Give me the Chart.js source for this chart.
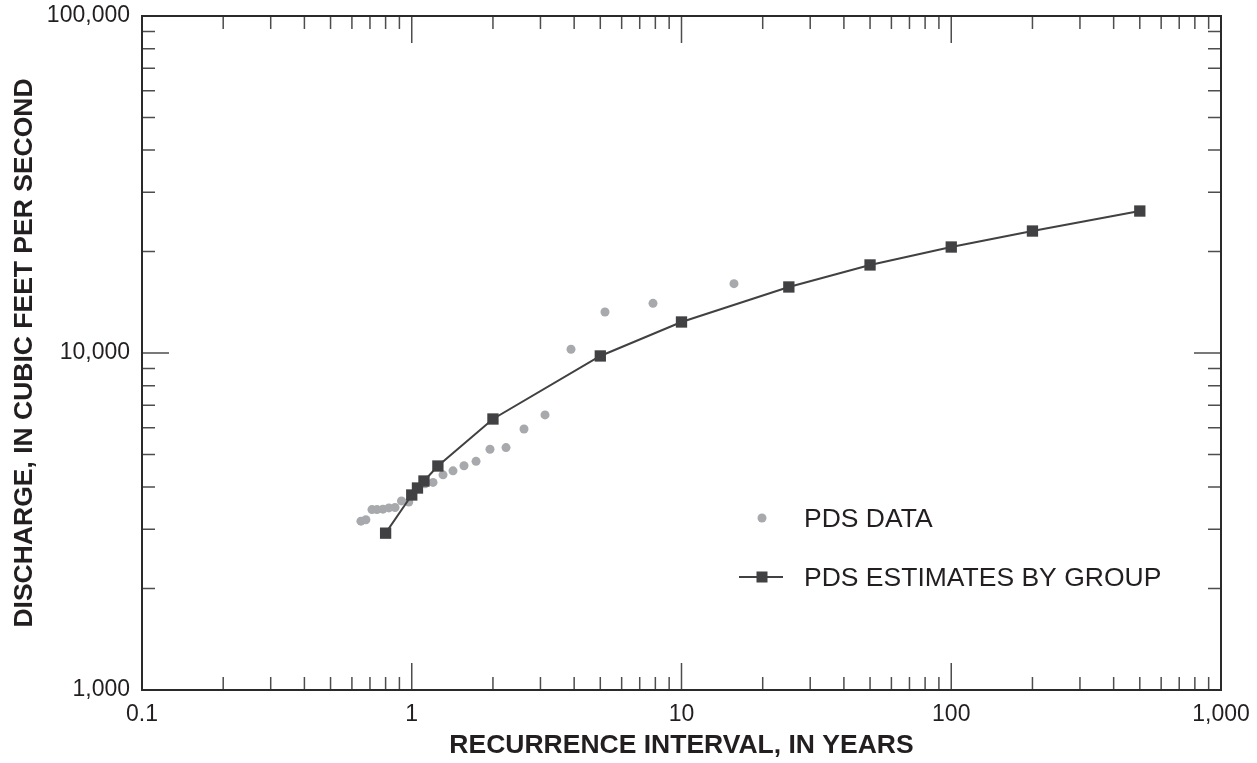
<!DOCTYPE html>
<html>
<head>
<meta charset="utf-8">
<script src="https://cdn.jsdelivr.net/npm/chart.js@4/dist/chart.umd.min.js"></script>
<style>
html,body{margin:0;padding:0;background:#fff;}
#wrap{width:1257px;height:763px;}
</style>
</head>
<body>
<div id="wrap"><canvas id="c" width="1257" height="763"></canvas></div>
<script>
// ---- data ----
const pdsYears = [0.648, 0.676, 0.712, 0.743, 0.782, 0.823, 0.867, 0.916, 0.975, 1.12, 1.199, 1.306, 1.422, 1.562, 1.731, 1.95, 2.236, 2.607, 3.119, 3.894, 5.204, 7.84, 15.65];
const pdsQ     = [3170, 3200, 3430, 3430, 3440, 3470, 3480, 3640, 3610, 4090, 4130, 4350, 4470, 4630, 4770, 5180, 5240, 5950, 6550, 10260, 13230, 14040, 16060];
const estYears = [0.8, 1.0, 1.05, 1.11, 1.25, 2, 5, 10, 25, 50, 100, 200, 500];
const estQ     = [2920, 3790, 3975, 4170, 4620, 6370, 9800, 12360, 15700, 18250, 20630, 23010, 26380];
const xTickValues = [0.1, 1, 10, 100, 1000];
const xTickLabels = ['0.1', '1', '10', '100', '1,000'];
const yTickValues = [1000, 10000, 100000];
const yTickLabels = ['1,000', '10,000', '100,000'];
const seriesNames = ['PDS DATA', 'PDS ESTIMATES BY GROUP'];
const xTitle = 'RECURRENCE INTERVAL, IN YEARS';
const yTitle = 'DISCHARGE, IN CUBIC FEET PER SECOND';

const DOT = '#a7a9ac';
const DARK = '#414042';
const TXT = '#231f20';
const FONT = 'Liberation Sans, Arial, Helvetica, sans-serif';

function labelFor(values, labels, v) {
  for (let i = 0; i < values.length; i++) {
    if (Math.abs(Math.log10(v) - Math.log10(values[i])) < 1e-6) return labels[i];
  }
  return '';
}

// draws inside tick marks on all four sides and the frame
const frameTicks = {
  id: 'frameTicks',
  afterDraw(chart) {
    const ctx = chart.ctx;
    const a = chart.chartArea;
    const xs = chart.scales.x, ys = chart.scales.y;
    ctx.save();
    ctx.strokeStyle = '#4d4d4f';
    ctx.lineWidth = 1.5;
    const minorLen = 13, majorLen = 27;
    for (let e = -1; e < 3; e++) {
      for (let m = 1; m <= 9; m++) {
        const v = m * Math.pow(10, e);
        if (v <= 0.1 + 1e-9) continue;
        const px = xs.getPixelForValue(v);
        const len = m === 1 ? majorLen : minorLen;
        ctx.beginPath();
        ctx.moveTo(px, a.bottom); ctx.lineTo(px, a.bottom - len);
        ctx.moveTo(px, a.top); ctx.lineTo(px, a.top + len);
        ctx.stroke();
      }
    }
    for (let e = 3; e < 5; e++) {
      for (let m = 1; m <= 9; m++) {
        const v = m * Math.pow(10, e);
        if (v <= 1000 + 1e-9) continue;
        const py = ys.getPixelForValue(v);
        const len = m === 1 ? majorLen : minorLen;
        ctx.beginPath();
        ctx.moveTo(a.left, py); ctx.lineTo(a.left + len, py);
        ctx.moveTo(a.right, py); ctx.lineTo(a.right - len, py);
        ctx.stroke();
      }
    }
    ctx.strokeStyle = '#2b2a2b';
    ctx.lineWidth = 2;
    ctx.strokeRect(a.left, a.top, a.right - a.left, a.bottom - a.top);
    ctx.restore();
  }
};

// legend inside the plot area
const innerLegend = {
  id: 'innerLegend',
  afterDatasetsDraw(chart) {
    const ctx = chart.ctx;
    ctx.save();
    ctx.font = '26.5px ' + FONT;
    ctx.textBaseline = 'middle';
    ctx.fillStyle = DOT;
    ctx.beginPath(); ctx.arc(762, 518, 4.5, 0, Math.PI * 2); ctx.fill();
    ctx.fillStyle = TXT;
    ctx.fillText(seriesNames[0], 804, 520);
    ctx.strokeStyle = DARK; ctx.lineWidth = 2;
    ctx.beginPath(); ctx.moveTo(739, 577); ctx.lineTo(783, 577); ctx.stroke();
    ctx.fillStyle = DARK;
    ctx.fillRect(762 - 5.5, 577 - 5.5, 11, 11);
    ctx.fillStyle = TXT;
    ctx.fillText(seriesNames[1], 804, 579);
    ctx.restore();
  }
};

new Chart(document.getElementById('c'), {
  type: 'scatter',
  data: {
    datasets: [
      {
        label: seriesNames[0],
        data: pdsYears.map((x, i) => ({ x: x, y: pdsQ[i] })),
        pointStyle: 'circle',
        pointRadius: 4.5,
        pointBackgroundColor: DOT,
        pointBorderWidth: 0,
        showLine: false,
        order: 2
      },
      {
        label: seriesNames[1],
        data: estYears.map((x, i) => ({ x: x, y: estQ[i] })),
        pointStyle: 'rect',
        pointRadius: 8,
        pointBackgroundColor: DARK,
        pointBorderColor: DARK,
        pointBorderWidth: 0,
        showLine: true,
        borderColor: DARK,
        borderWidth: 2,
        tension: 0,
        order: 1
      }
    ]
  },
  options: {
    responsive: false,
    animation: false,
    devicePixelRatio: 1,
    layout: { padding: { top: 16, right: 36, left: 0, bottom: 0 } },
    plugins: { legend: { display: false }, tooltip: { enabled: false } },
    scales: {
      x: {
        type: 'logarithmic',
        min: 0.1, max: 1000,
        grid: { display: false, drawTicks: false },
        border: { display: false },
        afterFit(s) { s.height = 73; s.paddingLeft = 0; s.paddingRight = 0; },
        ticks: {
          autoSkip: false, maxRotation: 0, minRotation: 0,
          padding: 11,
          color: TXT,
          font: { family: FONT, size: 23 },
          callback: (v) => labelFor(xTickValues, xTickLabels, v)
        },
        title: {
          display: true, text: xTitle, color: TXT,
          font: { family: FONT, size: 26.5, weight: 'bold' },
          padding: { top: 0, bottom: 1 }
        }
      },
      y: {
        type: 'logarithmic',
        min: 1000, max: 100000,
        grid: { display: false, drawTicks: false },
        border: { display: false },
        afterFit(s) { s.width = 142; s.paddingTop = 0; s.paddingBottom = 0; },
        ticks: {
          autoSkip: false,
          padding: 12,
          color: TXT,
          font: { family: FONT, size: 23 },
          callback: (v) => labelFor(yTickValues, yTickLabels, v)
        },
        title: {
          display: true, text: yTitle, color: TXT,
          font: { family: FONT, size: 26.5, weight: 'bold' },
          padding: { top: 9, bottom: 0 }
        }
      }
    }
  },
  plugins: [frameTicks, innerLegend]
});
</script>
</body>
</html>
